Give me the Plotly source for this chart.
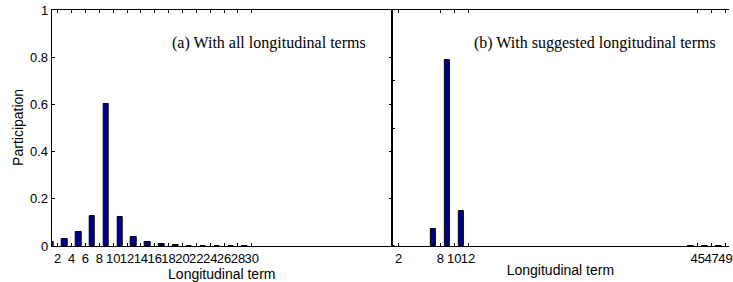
import plotly.graph_objects as go

# Data
left_terms = [2, 4, 6, 8, 10, 12, 14, 16, 18, 20, 22, 24, 26, 28, 30]
left_values = [0.018, 0.028, 0.059, 0.126, 0.600, 0.124, 0.037, 0.018, 0.008, 0.004, 0, 0, 0, 0, 0]
right_terms = [2, 8, 10, 12, 45, 47, 49]
right_values = [0.0, 0.072, 0.790, 0.150, 0.0, 0.0, 0.0]
y_ticks = [0, 0.2, 0.4, 0.6, 0.8, 1]
y_ticklabels = ["0", "0.2", "0.4", "0.6", "0.8", "1"]
right_y_ticks = [0.5, 0.7]

W, H = 733, 282
BAR = "#00008C"
SANS = "Liberation Sans, Arial, sans-serif"
SERIF = "Liberation Serif, Times New Roman, serif"

fig = go.Figure()
fig.add_trace(go.Bar(x=left_terms, y=left_values, width=0.8, offset=-1.4,
                     marker=dict(color=BAR, line=dict(color="black", width=1)),
                     xaxis="x", yaxis="y", showlegend=False))
fig.add_trace(go.Bar(x=right_terms, y=right_values, width=0.8, offset=-1.4,
                     marker=dict(color=BAR, line=dict(color="black", width=1)),
                     xaxis="x2", yaxis="y2", showlegend=False))

x_split = 394 / W
x_left = 52 / W
axis_common = dict(showline=True, linecolor="black", linewidth=1, ticks="inside",
                   ticklen=3, tickcolor="black", showgrid=False, zeroline=False,
                   tickangle=0, ticklabeloverflow="allow",
                   tickfont=dict(family=SANS, size=13, color="black"))
title_font = dict(family=SANS, size=14, color="black")

fig.update_layout(
    width=W, height=H,
    margin=dict(l=0, r=0, t=10, b=36),
    paper_bgcolor="white", plot_bgcolor="white",
    bargap=0,
    xaxis=dict(domain=[x_left, x_split], range=[1.14, 50.2], tickvals=left_terms,
               ticktext=[str(t) for t in left_terms], mirror="ticks",
               title=dict(text="Longitudinal term", font=title_font, standoff=0),
               anchor="y", **axis_common),
    yaxis=dict(domain=[0, 1], range=[0, 1], tickvals=y_ticks, ticktext=y_ticklabels,
               mirror="ticks", anchor="x", **axis_common),
    xaxis2=dict(domain=[x_split, 1], range=[1.04, 49.5], tickvals=right_terms,
                ticktext=[str(t) for t in right_terms], mirror="ticks",
                title=dict(text="Longitudinal term", font=title_font, standoff=0),
                anchor="y2", **axis_common),
    yaxis2=dict(domain=[0, 1], range=[0, 1], tickvals=right_y_ticks, showticklabels=False,
                anchor="x2", **axis_common),
    annotations=[
        dict(text="(a) With all longitudinal terms", xref="paper", yref="paper",
             x=370 / W, y=(246 - 43) / 236, xanchor="right", yanchor="middle",
             showarrow=False, font=dict(family=SERIF, size=16, color="black")),
        dict(text="(b) With suggested longitudinal terms", xref="paper", yref="paper",
             x=722 / W, y=(246 - 43) / 236, xanchor="right", yanchor="middle",
             showarrow=False, font=dict(family=SERIF, size=16, color="black")),
        dict(text="Participation", xref="paper", yref="paper",
             x=18 / W, y=(246 - 127) / 236, xanchor="center", yanchor="middle", textangle=-90,
             showarrow=False, font=dict(family=SANS, size=14, color="black")),
    ],
)

fig.write_html("out.html", config={"displayModeBar": False},
               post_script="document.body.style.margin='0';document.body.style.overflow='hidden';")
